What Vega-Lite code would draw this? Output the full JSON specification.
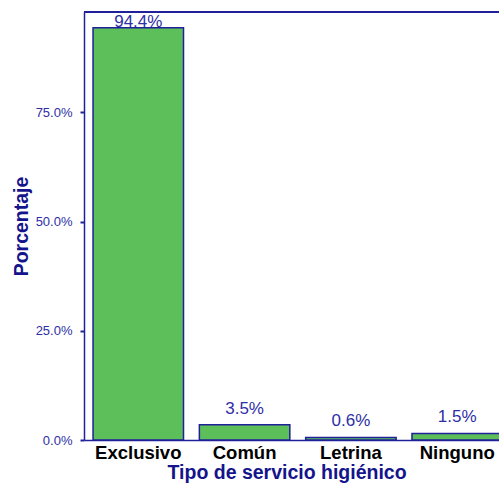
{
  "$schema": "https://vega.github.io/schema/vega-lite/v6.json",
  "width": 415,
  "height": 428,
  "autosize": "none",
  "padding": {"left": 84, "top": 12, "right": 0, "bottom": 46},
  "background": "white",
  "config": {"view": {"stroke": null}, "font": "Liberation Sans"},
  "data": {"values": [
    {"tipo": "Exclusivo", "pct": 94.4, "label": "94.4%", "grupo": "alto"},
    {"tipo": "Común", "pct": 3.5, "label": "3.5%", "grupo": "bajo"},
    {"tipo": "Letrina", "pct": 0.6, "label": "0.6%", "grupo": "bajo"},
    {"tipo": "Ninguno", "pct": 1.5, "label": "1.5%", "grupo": "bajo"}
  ]},
  "encoding": {
    "x": {
      "field": "tipo", "type": "nominal", "sort": null,
      "scale": {"range": [0, 427.5], "paddingInner": 0.149, "paddingOuter": 0.085},
      "axis": {
        "title": "Tipo de servicio higiénico",
        "labelAngle": 0, "labelFont": "Liberation Sans", "labelFontSize": 18.5, "labelFontWeight": "bold", "labelColor": "#000000",
        "labelPadding": 3, "ticks": false,
        "domainColor": "#20209a", "domainWidth": 1.5,
        "titleFont": "Liberation Sans", "titleFontSize": 19.5, "titleFontWeight": "bold", "titleColor": "#14148c", "titlePadding": 2,
        "titleAnchor": "start", "titleX": 83
      }
    },
    "y": {
      "field": "pct", "type": "quantitative",
      "scale": {"domain": [0, 98], "nice": false, "zero": true},
      "axis": {
        "title": "Porcentaje",
        "values": [0, 25, 50, 75],
        "labelExpr": "format(datum.value, '.1f') + '%'",
        "grid": false,
        "labelFont": "Liberation Sans", "labelFontSize": 13, "labelColor": "#2e2ea6",
        "labelPadding": 8, "tickSize": 4, "tickColor": "#20209a", "tickWidth": 2,
        "domainColor": "#20209a", "domainWidth": 1.5,
        "titleFont": "Liberation Sans", "titleFontSize": 19.5, "titleFontWeight": "bold", "titleColor": "#14148c", "titlePadding": 4
      }
    }
  },
  "layer": [
    {
      "mark": {"type": "bar", "fill": "#5cbf5a", "stroke": "#20209a", "strokeWidth": 1.5}
    },
    {
      "transform": [{"filter": "datum.grupo == 'bajo'"}],
      "mark": {"type": "text", "baseline": "alphabetic", "dy": -11, "fontSize": 17, "color": "#2e2ea6", "font": "Liberation Sans"},
      "encoding": {"text": {"field": "label"}}
    },
    {
      "transform": [{"filter": "datum.grupo == 'alto'"}],
      "mark": {"type": "text", "baseline": "alphabetic", "dy": -1, "fontSize": 17, "color": "#2e2ea6", "font": "Liberation Sans"},
      "encoding": {"text": {"field": "label"}}
    },
    {
      "mark": {"type": "rule", "color": "#20209a", "strokeWidth": 1.5},
      "encoding": {"y": {"datum": 98}, "x": null}
    }
  ]
}
